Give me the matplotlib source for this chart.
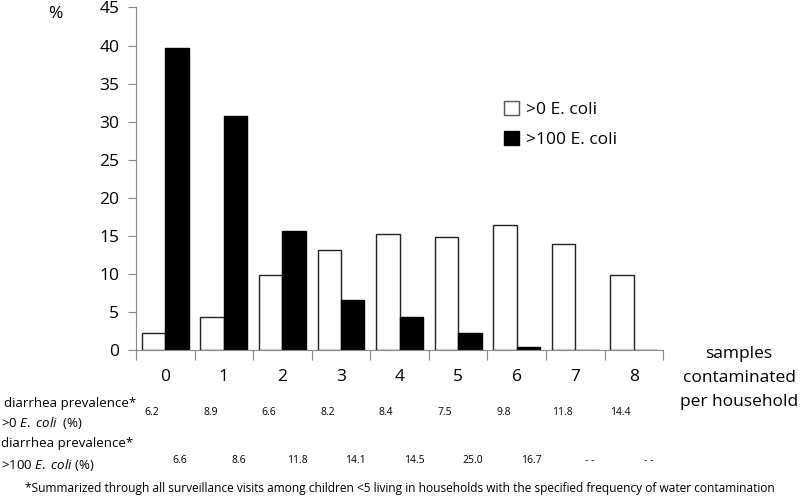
import numpy as np
import matplotlib.pyplot as plt
from matplotlib.patches import Patch

plt.rcParams['font.family'] = ['Open Sans', 'DejaVu Sans']
plt.rcParams['mathtext.fontset'] = 'custom'
plt.rcParams['mathtext.rm'] = 'Open Sans'
plt.rcParams['mathtext.it'] = 'Open Sans:italic'

# samples contaminated per household
cats = [0, 1, 2, 3, 4, 5, 6, 7, 8]
gt0 = [2.2, 4.4, 9.8, 13.2, 15.2, 14.9, 16.4, 13.9, 9.8]      # >0 E. coli
gt100 = [39.7, 30.8, 15.7, 6.6, 4.4, 2.2, 0.45, 0, 0]          # >100 E. coli
prev0 = ['6.2', '8.9', '6.6', '8.2', '8.4', '7.5', '9.8', '11.8', '14.4']
prev100 = ['6.6', '8.6', '11.8', '14.1', '14.5', '25.0', '16.7', '- -', '- -']
yticks = [0, 5, 10, 15, 20, 25, 30, 35, 40, 45]

fig = plt.figure(figsize=(8, 4.98), dpi=100)
ax = fig.add_axes([0.17, 0.297, 0.659, 0.688])

x = np.arange(len(cats))
w = 0.4
ax.bar(x - w/2, gt0, w, color='white', edgecolor='#222222', linewidth=1.0)
ax.bar(x + w/2, gt100, w, color='black', edgecolor='black', linewidth=1.0)

ax.set_xlim(-0.5, len(cats) - 0.5)
ax.set_ylim(0, 45)
ax.set_yticks(yticks)
ax.tick_params(axis='y', labelsize=12.5, length=6, color='#888888', pad=6)
ax.set_xticks(np.arange(len(cats) + 1) - 0.5)
ax.set_xticklabels([])
ax.tick_params(axis='x', length=7, color='#888888')
for i, c in enumerate(cats):
    ax.text(i, -3.5, str(c), ha='center', va='center', fontsize=12.5)

for s in ['top', 'right']:
    ax.spines[s].set_visible(False)
for s in ['left', 'bottom']:
    ax.spines[s].set_color('#888888')

fig.text(55/800, 1 - 14/498, '%', ha='center', va='center', fontsize=12.5)

handles = [Patch(facecolor='white', edgecolor='#555555', label='>0 E. coli'),
           Patch(facecolor='black', edgecolor='black', label='>100 E. coli')]
fig.legend(handles=handles, loc='upper left', bbox_to_anchor=(495/800, 1 - 92/498),
           frameon=False, fontsize=12.5, handlelength=0.9, handleheight=0.9,
           handletextpad=0.4, labelspacing=0.75, borderpad=0)

for yy, t in [(354, 'samples'), (378, 'contaminated'), (402, 'per household')]:
    fig.text(739/800, 1 - yy/498, t, ha='center', va='center', fontsize=12.5)

# table rows under the axis
for i in range(len(cats)):
    ax.text(i - 0.23, -8.2, prev0[i], ha='center', va='center', fontsize=7.5)
    ax.text(i + 0.25, -14.5, prev100[i], ha='center', va='center', fontsize=7.5)

fig.text(4/800, 1 - 403/498, 'diarrhea prevalence*', ha='left', va='center', fontsize=9.5)
fig.text(1/800, 1 - 423/498, r'>0 $\it{E.}$ $\it{coli}$  (%)', ha='left', va='center', fontsize=9.5)
fig.text(1/800, 1 - 443/498, 'diarrhea prevalence*', ha='left', va='center', fontsize=9.5)
fig.text(1/800, 1 - 465/498, r'>100 $\it{E.}$ $\it{coli}$ (%)', ha='left', va='center', fontsize=9.5)
fig.text(400/800, 1 - 488/498,
         '*Summarized through all surveillance visits among children <5 living in households '
         'with the specified frequency of water contamination',
         ha='center', va='center', fontsize=8.6)

fig.savefig('out.png', dpi=100)
